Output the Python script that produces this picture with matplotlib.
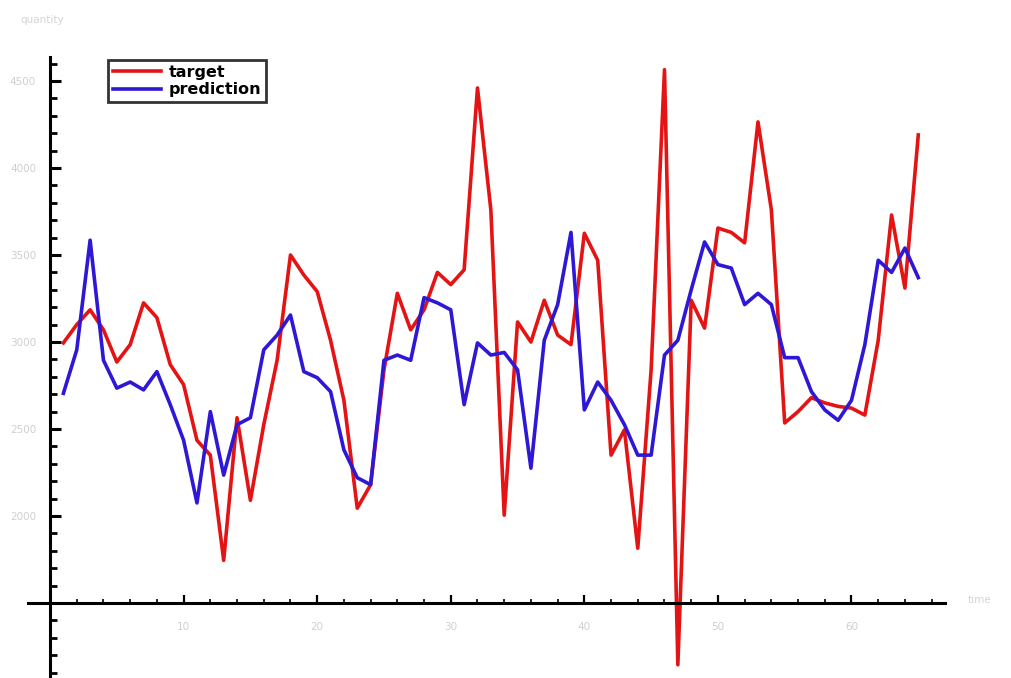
import matplotlib
matplotlib.use("Agg")
import matplotlib.pyplot as plt
from matplotlib.ticker import MultipleLocator

# Observed demand vs. model prediction, one value per step
steps = list(range(1, 66))
target = [2995, 3100, 3185, 3070, 2885, 2985, 3225, 3140, 2870, 2755,
          2435, 2350, 1745, 2565, 2090, 2525, 2895, 3500, 3385, 3290,
          3010, 2665, 2045, 2180, 2840, 3280, 3070, 3185, 3400, 3330,
          3415, 4460, 3760, 2005, 3115, 3000, 3240, 3040, 2985, 3625,
          3470, 2350, 2495, 1815, 2840, 4565, 1145, 3240, 3080, 3655,
          3630, 3570, 4265, 3760, 2535, 2600, 2680, 2650, 2630, 2620,
          2580, 3010, 3730, 3310, 4190]
prediction = [2705, 2955, 3585, 2895, 2735, 2770, 2725, 2830, 2640, 2435,
              2075, 2600, 2235, 2525, 2565, 2955, 3040, 3155, 2830, 2795,
              2715, 2380, 2220, 2180, 2895, 2925, 2895, 3255, 3225, 3185,
              2640, 2995, 2925, 2940, 2840, 2275, 3010, 3215, 3630, 2610,
              2770, 2665, 2525, 2350, 2350, 2925, 3010, 3300, 3575, 3445,
              3425, 3215, 3280, 3215, 2910, 2910, 2715, 2610, 2550, 2665,
              2985, 3470, 3400, 3540, 3370]

x_ticks = [10, 20, 30, 40, 50, 60]
y_ticks = [2000, 2500, 3000, 3500, 4000, 4500]

fig = plt.figure(figsize=(10.12, 6.78), dpi=100)
ax = fig.add_axes([28 / 1012, 0.0, (945 - 28) / 1012, (678 - 57) / 678])

ax.plot(steps, target, color="#e41414", lw=2.6, label="target",
        solid_joinstyle="round")
ax.plot(steps, prediction, color="#2e18d6", lw=2.6, label="prediction",
        solid_joinstyle="round")

ax.set_xlim(-1.65, 67.0)
ax.set_ylim(1069, 4638)

# Axes cross at the origin point, frame hidden
for side in ("top", "right"):
    ax.spines[side].set_visible(False)
ax.spines["left"].set_position(("data", 0))
ax.spines["bottom"].set_position(("data", 1500))
ax.spines["left"].set_linewidth(2.2)
ax.spines["bottom"].set_linewidth(2.2)

ax.set_xticks(x_ticks)
ax.set_yticks(y_ticks)
ax.xaxis.set_minor_locator(MultipleLocator(2))
ax.yaxis.set_minor_locator(MultipleLocator(100))
ax.tick_params(axis="y", which="major", direction="in", length=8, width=2.2,
               labelsize=7.5, labelcolor="#cfcfcf", pad=10)
ax.tick_params(axis="y", which="minor", direction="in", length=5, width=2.0)
ax.tick_params(axis="x", which="major", direction="in", length=6, width=1.6,
               labelsize=7.5, labelcolor="#cfcfcf", pad=14)
ax.tick_params(axis="x", which="minor", direction="in", length=3, width=1.2)

fig.text(20 / 1012, 1 - 20 / 678, "quantity", fontsize=7.5, color="#d4d4d4",
         ha="left", va="center")
fig.text(968 / 1012, 1 - 600 / 678, "time", fontsize=7.5, color="#d4d4d4",
         ha="left", va="center")

leg = ax.legend(loc="upper left", bbox_to_anchor=(108 / 1012, 1 - 60 / 678),
                bbox_transform=fig.transFigure, frameon=True, fancybox=False,
                borderpad=0.3, handlelength=3.0, handletextpad=0.5,
                labelspacing=0.15, borderaxespad=0,
                prop={"family": "DejaVu Sans", "weight": "bold",
                      "size": 11.5})
leg.get_frame().set_edgecolor("black")
leg.get_frame().set_linewidth(2.0)

fig.savefig("out.png", dpi=100, facecolor="white")
